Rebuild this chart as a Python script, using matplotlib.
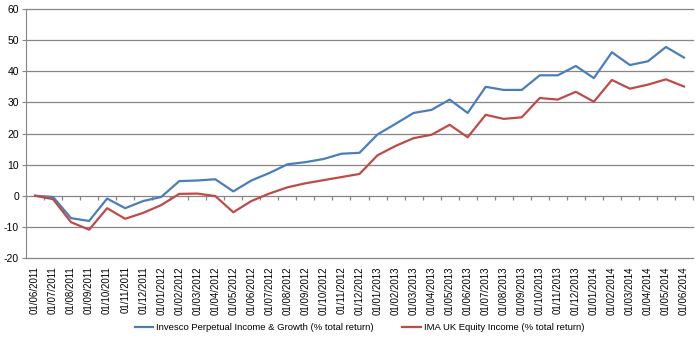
#!/usr/bin/env python3
"""
Invesco Perpetual Income & Growth vs IMA UK Equity Income,
cumulative % total return, monthly from 06/2011 to 06/2014.
"""
import pandas as pd
import matplotlib
matplotlib.use("Agg")
import matplotlib.pyplot as plt

plt.rcParams["font.family"] = ["Liberation Sans", "DejaVu Sans"]
plt.rcParams["axes.unicode_minus"] = False

# monthly dates (first of month) as shown on the category axis
dates = pd.date_range("2011-06-01", "2014-06-01", freq="MS")
date_labels = [d.strftime("%d/%m/%Y") for d in dates]

# % total return
invesco = [0, -0.4, -7.2, -8.1, -0.9, -4.0, -1.7, -0.4, 4.7, 4.9, 5.3, 1.4, 4.9,
           7.3, 10.1, 10.8, 11.8, 13.5, 13.8, 19.7, 23.1, 26.6, 27.6, 30.9,
           26.6, 35.0, 34.0, 34.0, 38.7, 38.7, 41.7, 37.8, 46.1, 42.0, 43.2,
           47.8, 44.4]
ima = [0, -1.1, -8.5, -10.9, -4.0, -7.4, -5.5, -3.0, 0.6, 0.7, -0.1, -5.3, -1.7,
       0.7, 2.7, 4.0, 5.0, 6.0, 7.0, 13.0, 16.0, 18.5, 19.6, 22.8, 18.8, 26.0,
       24.7, 25.2, 31.4, 30.9, 33.4, 30.2, 37.2, 34.4, 35.7, 37.4, 35.1]

BLUE = "#4a7ebb"
RED = "#be4b48"
GRID = "#868686"

fig = plt.figure(figsize=(7, 3.44), dpi=100)
ax = fig.add_axes([26 / 700, 1 - 258 / 344, 667 / 700, 249 / 344])

x = list(range(len(dates)))
ax.plot(x, invesco, color=BLUE, lw=1.6,
        label="Invesco Perpetual Income & Growth (% total return)")
ax.plot(x, ima, color=RED, lw=1.6,
        label="IMA UK Equity Income (% total return)")

ax.set_ylim(-20, 60)
ax.set_xlim(-0.5, len(dates) - 0.5)
ax.set_yticks(range(-20, 61, 10))
ax.yaxis.grid(True, color=GRID, lw=0.9)
for gl in ax.get_ygridlines():
    gl.set_clip_on(False)
ax.set_axisbelow(True)
ax.tick_params(axis="y", labelsize=7.5, length=3, color=GRID, pad=2)

for side in ["top", "right", "bottom"]:
    ax.spines[side].set_visible(False)
ax.spines["left"].set_color(GRID)

# category axis crosses at zero: tick marks between categories hang below it
ax.vlines([i - 0.5 for i in range(len(dates) + 1)], -1.3, 0,
          color=GRID, lw=0.9, zorder=1, clip_on=False)

# date labels sit below the plot area
ax.set_xticks(x)
ax.set_xticklabels(date_labels, rotation=90, fontsize=7)
ax.tick_params(axis="x", length=0, pad=6)

ax.legend(loc="center", bbox_to_anchor=(0.5, -0.28), ncol=2, frameon=False,
          fontsize=6.8, handlelength=2.0, handletextpad=0.3, columnspacing=3.0)

plt.savefig("out.png", dpi=100)
